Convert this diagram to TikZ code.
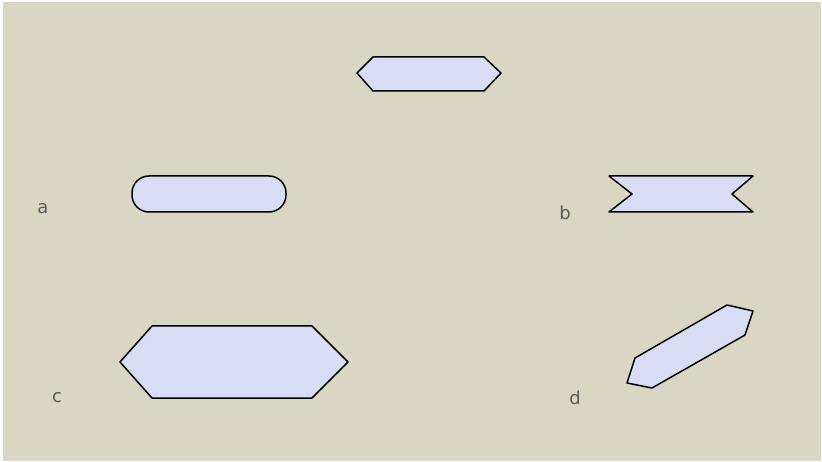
\documentclass[tikz,border=0pt]{standalone}
\usepackage{fontspec}
\setmainfont{DejaVu Sans}
\definecolor{bg}{HTML}{D9D6C3}
\definecolor{shapefill}{HTML}{D8DCF4}
\definecolor{lbl}{HTML}{5A5A5A}
\tikzset{
  shp/.style={draw=black, fill=shapefill, line width=1.5pt, line join=round},
  lab/.style={text=lbl, font=\fontsize{18}{18}\selectfont, inner sep=0pt, anchor=center}
}
\begin{document}
\begin{tikzpicture}[x=1pt,y=-1pt]
\useasboundingbox (0,0) rectangle (822,462);
\fill[white] (0,0) rectangle (822,462);
\fill[bg] (3,2) rectangle (821,461);
% top hexagon
\draw[shp] (357,73) -- (373,57) -- (484,57) -- (501,73) -- (484,91) -- (373,91) -- cycle;
% a: rounded rectangle
\draw[shp, rounded corners=17pt] (132,176) rectangle (286,212);
% b: ribbon
\draw[shp] (609,176) -- (753,176) -- (732,194) -- (753,212) -- (609,212) -- (632,194) -- cycle;
% c: hexagon
\draw[shp] (120,362) -- (152,326) -- (312,326) -- (348,362) -- (312,398) -- (152,398) -- cycle;
% d: rotated hexagon
\draw[shp] (727,305) -- (753,311) -- (745,335) -- (652,388) -- (627,383) -- (635,358) -- cycle;
% labels
\node[lab] (la) at (43,209) {a};
\node[lab] (lb) at (565,213) {b};
\node[lab] (lc) at (57,398) {c};
\node[lab] (ld) at (575,398) {d};
\end{tikzpicture}
\end{document}
